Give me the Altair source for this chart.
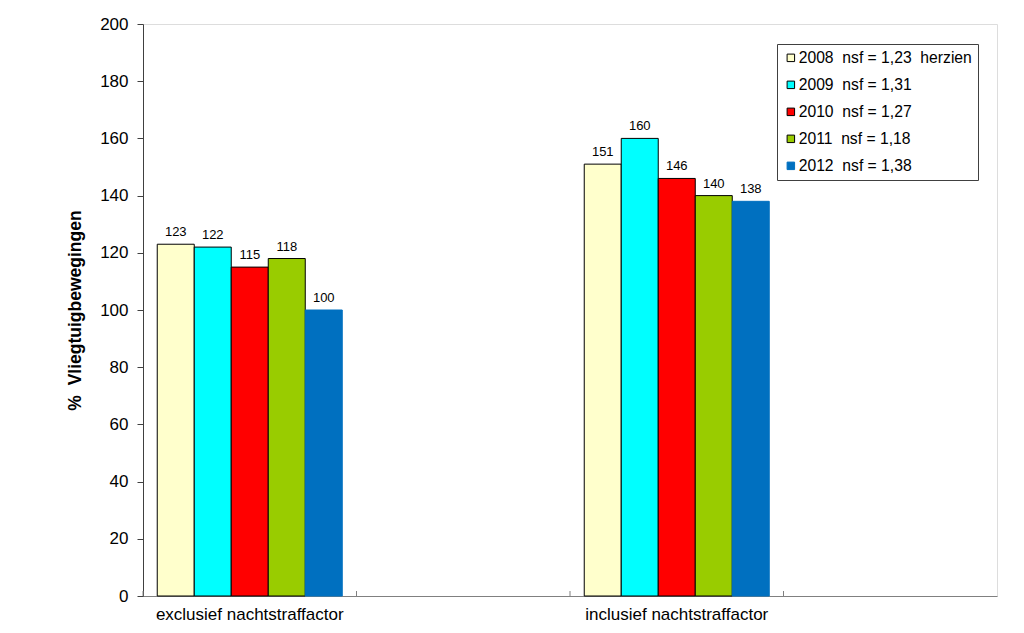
import altair as alt
import pandas as pd

categories = ["exclusief nachtstraffactor", " ", "inclusief nachtstraffactor", "  "]
groups = ["exclusief nachtstraffactor", "inclusief nachtstraffactor"]
years = ["2008\u00a0 nsf = 1,23\u00a0\u00a0herzien", "2009\u00a0 nsf = 1,31", "2010\u00a0 nsf = 1,27",
         "2011\u00a0 nsf = 1,18", "2012\u00a0 nsf = 1,38"]
excl_values = [123, 122, 115, 118, 100]
incl_values = [151, 160, 146, 140, 138]
colors = ["#FFFFCC", "#00FFFF", "#FF0000", "#99CC00", "#0070C0"]
strokes = ["#000000", "#000000", "#000000", "#000000", "#0070C0"]

rows = []
for g, vals in zip(groups, [excl_values, incl_values]):
    for y, v in zip(years, vals):
        rows.append({"cat": g, "year": y, "value": v})
df = pd.DataFrame(rows)
cat_df = pd.DataFrame({"cat": categories})

W, H = 854, 572
FONT = "Liberation Sans"

xscale = alt.Scale(domain=categories, paddingInner=0, paddingOuter=0)
yscale = alt.Scale(domain=[0, 200])

x_enc = alt.X("cat:N", scale=xscale, sort=categories,
              axis=alt.Axis(title=None, labelAngle=0, ticks=False, labelLimit=400,
                            labelFontSize=17, labelPadding=10,
                            labelColor="#000000", domainColor="#808080", labelFont=FONT))
xoff = alt.XOffset("year:N", sort=years, scale=alt.Scale(paddingInner=0, paddingOuter=0.385))
y_enc = alt.Y("value:Q", scale=yscale,
              axis=alt.Axis(title="%\u00a0\u00a0Vliegtuigbewegingen", values=list(range(0, 201, 20)),
                            grid=False, tickSize=6, tickColor="#404040", domainColor="#404040",
                            labelFontSize=17, labelColor="#000000", labelFont=FONT, labelPadding=9,
                            titleFont=FONT, titleFontSize=17.5, titleFontWeight="bold",
                            titleColor="#000000", titlePadding=15))

bars = alt.Chart(df).mark_bar(strokeWidth=1, opacity=1).encode(
    x=x_enc, xOffset=xoff, y=y_enc,
    fill=alt.Fill("year:N", sort=years, scale=alt.Scale(domain=years, range=colors),
                  legend=alt.Legend(title=None, orient="none", legendX=634, legendY=20,
                                    symbolType="square", symbolSize=56, symbolStrokeColor="#000000",
                                    symbolStrokeWidth=1, labelFontSize=15.7, labelFont=FONT,
                                    labelColor="#000000", rowPadding=10, padding=6,
                                    strokeColor="#404040", fillColor="#FFFFFF",
                                    labelOffset=0, labelLimit=400)),
    stroke=alt.Stroke("year:N", sort=years, scale=alt.Scale(domain=years, range=strokes), legend=None),
)

labels = alt.Chart(df).mark_text(baseline="bottom", dy=-5, fontSize=13, font=FONT, color="#000000").encode(
    x=alt.X("cat:N", scale=xscale, sort=categories), xOffset=xoff, y=alt.Y("value:Q", scale=yscale),
    text="value:Q",
)

ticks = alt.Chart(cat_df).mark_rule(color="#808080", strokeWidth=1).encode(
    x=alt.X("cat:N", scale=xscale, sort=categories, bandPosition=0),
    y=alt.value(H), y2=alt.value(H - 5),
)

chart = alt.layer(bars, labels, ticks).properties(
    width=W, height=H,
    autosize=alt.AutoSizeParams(type="none"),
    padding={"left": 135, "top": 16, "right": 10, "bottom": 28},
).configure_view(stroke="#808080", strokeWidth=1).configure(background="#FFFFFF")

chart.save("out.html", embed_options={"renderer": "svg", "actions": False})
